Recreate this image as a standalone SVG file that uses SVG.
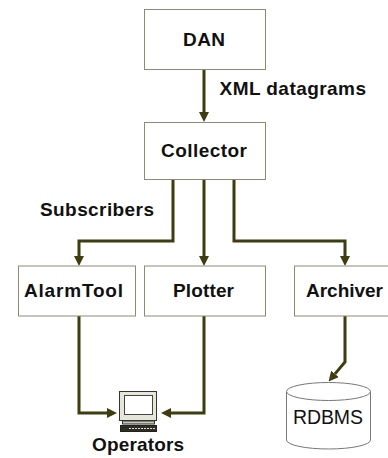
<svg xmlns="http://www.w3.org/2000/svg" width="388" height="458" viewBox="0 0 388 458">
<style>
.box{fill:#fff;stroke:#8c8c74;stroke-width:1}
.lbl{font-family:"Liberation Sans",Arial,sans-serif;font-weight:bold;font-size:19px;fill:#111;text-anchor:middle}
.free{font-family:"Liberation Sans",Arial,sans-serif;font-weight:bold;font-size:19px;fill:#111}
.conn{fill:none;stroke:#3d3d10;stroke-width:3;stroke-linejoin:miter}
.db{fill:#fff;stroke:#777;stroke-width:1}
</style>
<defs>
<marker id="ah" markerWidth="10" markerHeight="10" refX="0" refY="5" orient="auto" markerUnits="userSpaceOnUse">
<path d="M0,0 L10,5 L0,10 z" fill="#3d3d10"/>
</marker>
</defs>
<rect width="388" height="458" fill="#fff"/>
<g id="connectors">
<path class="conn" d="M204,69 V112" marker-end="url(#ah)"/>
<path class="conn" d="M173,179 V241 H79 V256" marker-end="url(#ah)"/>
<path class="conn" d="M204,179 V256" marker-end="url(#ah)"/>
<path class="conn" d="M234,179 V241 H345 V256" marker-end="url(#ah)"/>
<path class="conn" d="M79,316 V413 H107" marker-end="url(#ah)"/>
<path class="conn" d="M204,316 V413 H171" marker-end="url(#ah)"/>
<path class="conn" d="M345,316 V362 L335,373.9" marker-end="url(#ah)"/>
</g>
<g id="dan">
<rect class="box" x="144.5" y="9.5" width="121" height="60"/>
<text class="lbl" x="204" y="45.5" textLength="42" lengthAdjust="spacing">DAN</text>
</g>
<g id="xml-label">
<text class="free" x="219.5" y="95" textLength="146.5" lengthAdjust="spacing">XML datagrams</text>
</g>
<g id="collector">
<rect class="box" x="144.5" y="122.5" width="121" height="57"/>
<text class="lbl" x="204" y="156.5" textLength="86" lengthAdjust="spacing">Collector</text>
</g>
<g id="subscribers-label">
<text class="free" x="40" y="215.5" textLength="114" lengthAdjust="spacing">Subscribers</text>
</g>
<g id="alarmtool">
<rect class="box" x="18.5" y="266" width="117" height="50"/>
<text class="lbl" x="73.5" y="297" textLength="99" lengthAdjust="spacing">AlarmTool</text>
</g>
<g id="plotter">
<rect class="box" x="144.5" y="266" width="121" height="50"/>
<text class="lbl" x="203.5" y="297" textLength="61" lengthAdjust="spacing">Plotter</text>
</g>
<g id="archiver">
<rect class="box" x="294.5" y="266" width="100" height="50"/>
<text class="lbl" x="344.5" y="297" textLength="77" lengthAdjust="spacing">Archiver</text>
</g>
<g id="operators">
<rect x="119.5" y="391.5" width="37" height="29" fill="#e6e6d8" stroke="#333" stroke-width="1"/>
<rect x="124.5" y="395.5" width="28" height="19" fill="#fff" stroke="#444" stroke-width="1"/>
<rect x="122.5" y="421" width="32" height="3" fill="#c8c8bc" stroke="#333" stroke-width="1"/>
<rect x="120.5" y="425.5" width="36" height="6" fill="#2e2e20" stroke="#222" stroke-width="1"/>
<line x1="129" y1="428.5" x2="155" y2="428.5" stroke="#ddd" stroke-width="1.2" stroke-dasharray="2,1"/>
<text class="lbl" x="138" y="451" textLength="92" lengthAdjust="spacing">Operators</text>
</g>
<g id="rdbms">
<path class="db" d="M286.5,391.5 V440 A42,9 0 0 0 370.5,440 V391.5"/>
<ellipse class="db" cx="328.5" cy="391.5" rx="42" ry="9"/>
<text x="328" y="424" text-anchor="middle" font-family="Liberation Sans, Arial, sans-serif" font-size="19.5" fill="#111" textLength="70" lengthAdjust="spacing">RDBMS</text>
</g>
</svg>
